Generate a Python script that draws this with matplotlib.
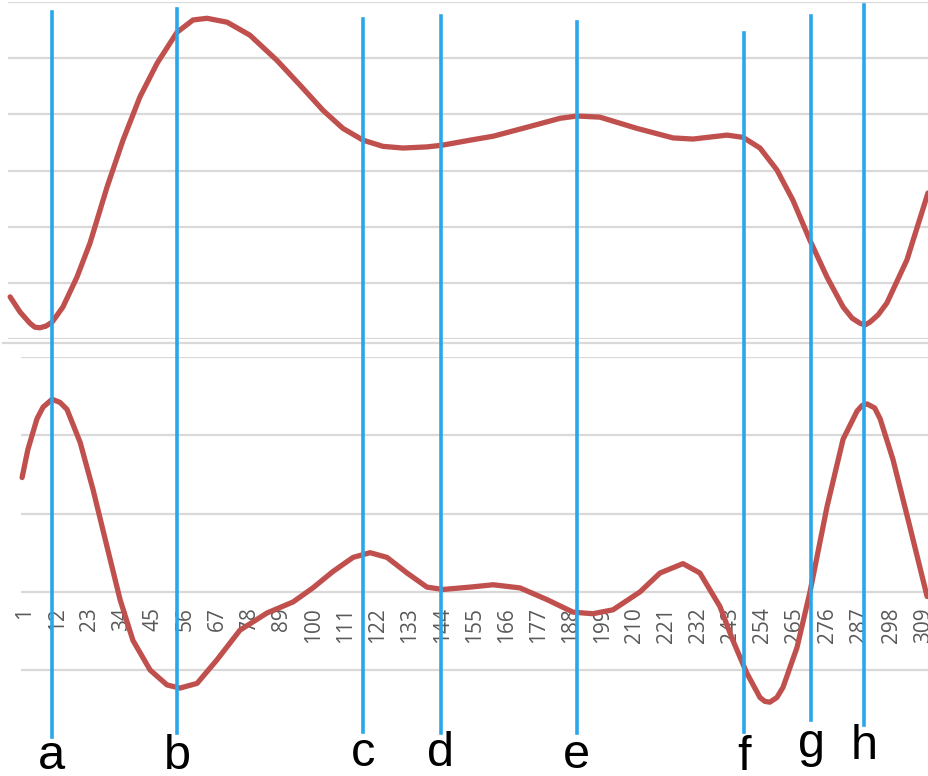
import matplotlib.pyplot as plt

plt.rcParams['font.family'] = ['Liberation Sans', 'DejaVu Sans']

# 上图曲线（网格单位 0~6）
top_x = [-4.1, -0.7, 2.7, 4.4, 6.1, 8.2, 10.3, 14.0, 18.8, 23.3, 29.1, 34.6, 40.4, 46.3, 53.1,
         58.6, 63.4, 70.3, 78.1, 87.4, 95.3, 103.2, 110.0, 116.9, 123.7, 130.6, 138.8, 144.0,
         153.6, 161.5, 173.1, 184.5, 190.3, 198.1, 210.8, 223.2, 230.0, 241.7, 247.2,
         253.0, 258.8, 264.3, 270.1, 276.0, 281.5, 284.6, 287.3, 289.0, 290.7, 293.5,
         296.5, 303.4, 310.6]
top_y = [0.75, 0.48, 0.28, 0.21, 0.20, 0.23, 0.30, 0.57, 1.10, 1.71, 2.70, 3.54, 4.31, 4.91, 5.46,
         5.68, 5.71, 5.64, 5.41, 4.96, 4.52, 4.07, 3.75, 3.54, 3.43, 3.40, 3.42, 3.45,
         3.54, 3.61, 3.77, 3.93, 3.97, 3.95, 3.75, 3.58, 3.56, 3.63, 3.59,
         3.40, 3.01, 2.47, 1.76, 1.10, 0.57, 0.37, 0.28, 0.25, 0.30, 0.43,
         0.64, 1.41, 2.60]

# 下图曲线（网格单位 -1~3）
bot_x = [0.0, 2.0, 5.1, 7.2, 10.3, 13.0, 15.4, 19.9, 24.3, 29.1, 33.6, 38.0, 43.9, 49.7, 54.1,
         60.0, 66.8, 74.7, 84.0, 92.9, 99.7, 106.6, 113.5, 119.3, 125.1, 132.0, 138.8, 144.3,
         153.6, 161.5, 170.7, 180.0, 188.9, 195.7, 202.6, 211.9, 218.7, 226.6, 232.4,
         239.3, 243.7, 248.5, 253.0, 254.7, 256.4, 258.8, 260.9, 265.7, 270.1, 276.0,
         281.5, 286.3, 288.0, 289.7, 292.3, 294.2, 298.6, 304.4, 310.3]
bot_y = [1.46, 1.82, 2.21, 2.36, 2.46, 2.42, 2.33, 1.91, 1.31, 0.58, -0.10, -0.62, -1.00, -1.19, -1.23,
         -1.17, -0.87, -0.49, -0.27, -0.13, 0.05, 0.26, 0.44, 0.50, 0.44, 0.24, 0.06, 0.03,
         0.06, 0.09, 0.05, -0.10, -0.26, -0.28, -0.23, 0.00, 0.24, 0.36, 0.24,
         -0.19, -0.62, -1.04, -1.35, -1.40, -1.41, -1.35, -1.22, -0.71, -0.01, 1.09,
         1.95, 2.31, 2.38, 2.40, 2.35, 2.21, 1.69, 0.83, -0.06]

x_ticks = list(range(1, 310, 11))
top_grid = [0, 1, 2, 3, 4, 5, 6]
bot_grid = [-1, 0, 1, 2, 3]

mark_x = [10.2, 53.2, 117.0, 143.6, 190.2, 247.5, 270.5, 288.6]
mark_labels = ['a', 'b', 'c', 'd', 'e', 'f', 'g', 'h']

RED = '#C0504D'
BLUE = '#2AA7EA'
GRID = '#D9D9D9'

W, H = 929, 776


def px2x(px):
    # 像素 -> 类别坐标
    return 1 + (px - 25) / 2.9166


fig = plt.figure(figsize=(W / 100, H / 100), dpi=100)

# 上图
ax1 = fig.add_axes([8 / W, 1 - 339 / H, (W - 8) / W, 337 / H])
ax1.set_xlim(px2x(8), px2x(W))
ax1.set_ylim(0, 6)
ax1.set_yticks(top_grid)
ax1.grid(axis='y', color=GRID, linewidth=1.6)
ax1.plot(top_x, top_y, color=RED, linewidth=3.8, solid_capstyle='round',
         solid_joinstyle='round', clip_on=False)
ax1.tick_params(left=False, labelleft=False, bottom=False, labelbottom=False)
for s in ax1.spines.values():
    s.set_visible(False)

# 下图（横轴放在 y=0 处）
ax2 = fig.add_axes([21 / W, 1 - 710 / H, (W - 21) / W, (710 - 357) / H])
ax2.spines['bottom'].set_position(('data', 0))
for s in ax2.spines.values():
    s.set_visible(False)
ax2.set_xlim(px2x(21), px2x(W))
ax2.set_ylim(-1.51, 3.0)
ax2.set_yticks(bot_grid)
ax2.grid(axis='y', color=GRID, linewidth=1.6)
ax2.plot(bot_x, bot_y, color=RED, linewidth=3.8, solid_capstyle='round',
         solid_joinstyle='round', clip_on=False)
ax2.set_xticks(x_ticks)
ax2.set_xticklabels([str(t) for t in x_ticks], rotation=90, color='#595959', fontsize=15,
                    family=['Open Sans', 'DejaVu Sans'], va='top', ha='center')
ax2.tick_params(axis='x', length=0, pad=11)
ax2.tick_params(left=False, labelleft=False)

# 竖线和字母
ax3 = fig.add_axes([0, 0, 1, 1])
ax3.set_xlim(px2x(0), px2x(W))
ax3.set_ylim(0, 1)
ax3.axis('off')
ax3.patch.set_alpha(0)
ax3.axhline(1 - 343 / H, xmin=3 / W, xmax=1, color=GRID, linewidth=1.6)

line_top = [12, 9, 19, 16, 22, 33, 16, 5]
line_bot = [737, 733, 732, 733, 733, 732, 720, 725]
text_base = [769, 769, 766, 766, 768, 770, 757, 759]
for x, lab, t, b, tb in zip(mark_x, mark_labels, line_top, line_bot, text_base):
    ax3.axvline(x, ymin=1 - b / H, ymax=1 - t / H, color=BLUE, linewidth=2.6)
    ax3.text(x, 1 - tb / H, lab, ha='center', va='baseline', fontsize=35, color='black')

fig.savefig('out.png', dpi=100)
